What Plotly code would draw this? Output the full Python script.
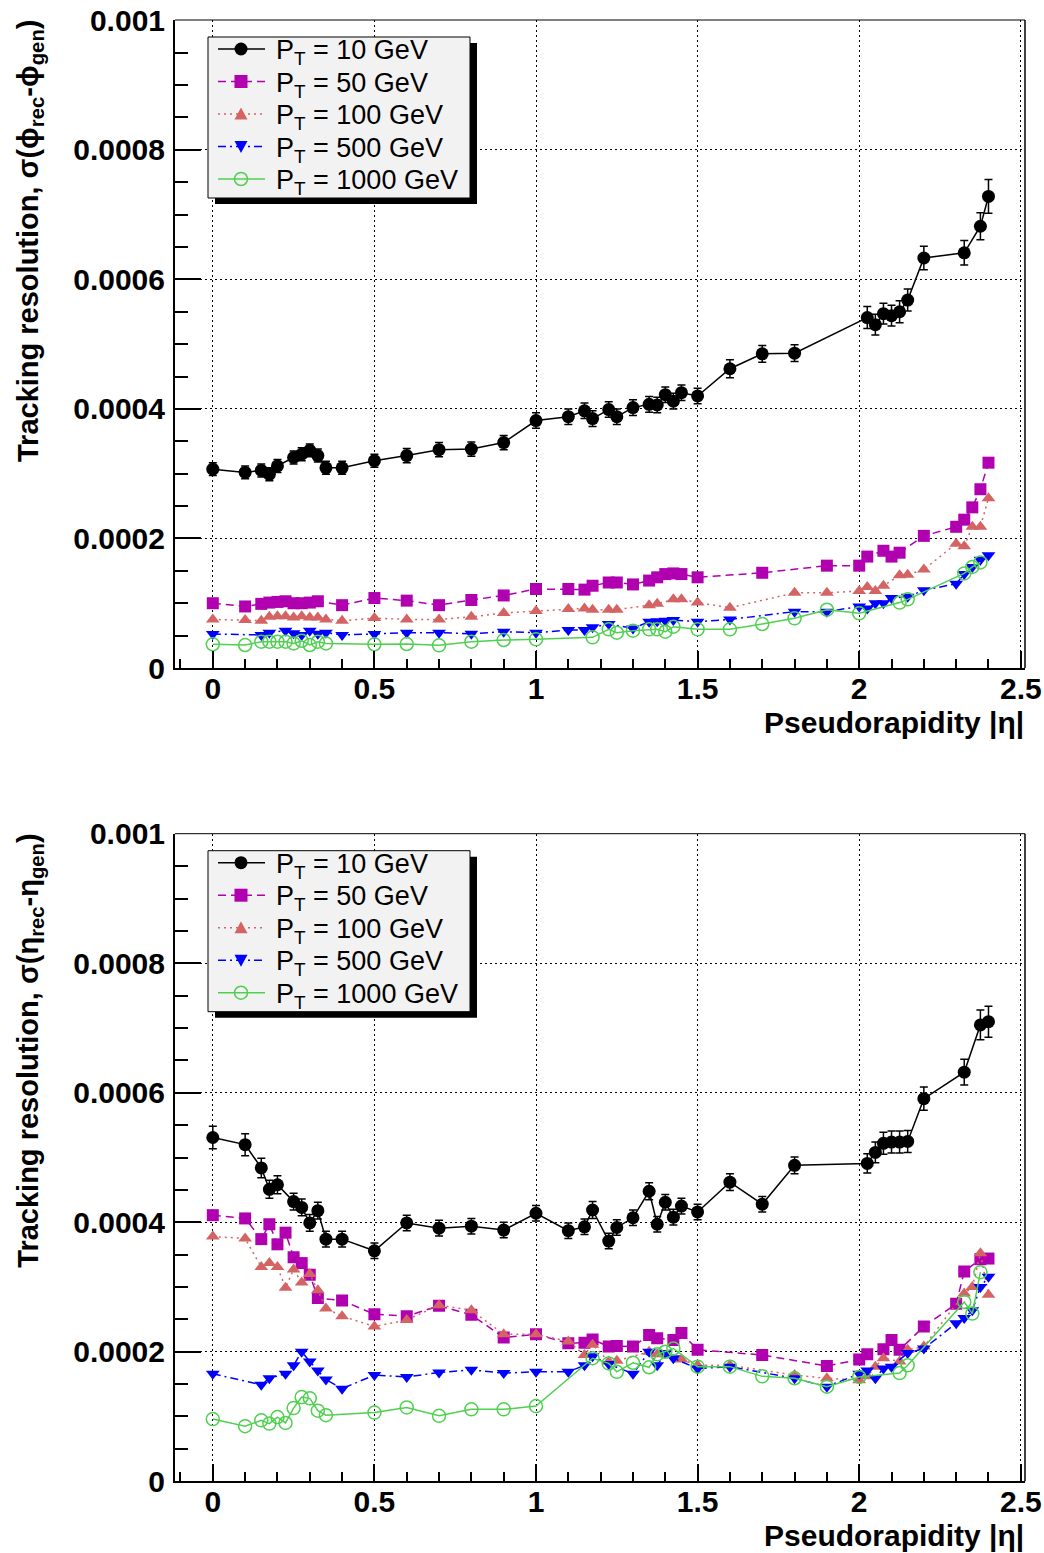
import plotly.graph_objects as go

# Tracking resolution versus |eta| for single muons at several transverse momenta.
# Resolution values are stored in units of 1e-4 (rad for phi, unitless for eta).

PT_LABELS = ["10", "50", "100", "500", "1000"]

# ---------------- sigma(phi_rec - phi_gen) ----------------
phi_eta_10 = [0, 0.1, 0.15, 0.175, 0.2, 0.25, 0.275, 0.3, 0.325, 0.35, 0.4, 0.5, 0.6, 0.7, 0.8, 0.9,
              1.0, 1.1, 1.15, 1.175, 1.225, 1.25, 1.3, 1.35, 1.375, 1.4, 1.425, 1.45, 1.5, 1.6, 1.7,
              1.8, 2.025, 2.05, 2.075, 2.1, 2.125, 2.15, 2.2, 2.325, 2.375, 2.4]
phi_res_10 = [3.07, 3.02, 3.05, 2.99, 3.12, 3.25, 3.30, 3.36, 3.28, 3.09, 3.09, 3.20, 3.28, 3.37, 3.38, 3.48,
              3.82, 3.88, 3.97, 3.85, 3.99, 3.88, 4.02, 4.07, 4.06, 4.22, 4.12, 4.25, 4.20, 4.62, 4.85,
              4.86, 5.41, 5.30, 5.47, 5.44, 5.50, 5.68, 6.33, 6.41, 6.82, 7.28]
phi_err_10 = [0.10, 0.10, 0.10, 0.10, 0.10, 0.10, 0.10, 0.10, 0.10, 0.10, 0.10, 0.10, 0.11, 0.11, 0.11, 0.11,
              0.12, 0.12, 0.12, 0.12, 0.12, 0.12, 0.12, 0.12, 0.12, 0.12, 0.12, 0.12, 0.12, 0.14, 0.13,
              0.13, 0.17, 0.16, 0.16, 0.16, 0.17, 0.17, 0.18, 0.19, 0.21, 0.26]

phi_eta_50 = [0, 0.1, 0.15, 0.175, 0.2, 0.225, 0.25, 0.275, 0.3, 0.325, 0.4, 0.5, 0.6, 0.7, 0.8, 0.9,
              1.0, 1.1, 1.15, 1.175, 1.225, 1.25, 1.3, 1.35, 1.375, 1.4, 1.425, 1.45, 1.5, 1.7, 1.9,
              2.0, 2.025, 2.075, 2.1, 2.125, 2.2, 2.3, 2.325, 2.35, 2.375, 2.4]
phi_res_50 = [1.00, 0.95, 0.99, 1.01, 1.02, 1.03, 1.00, 1.00, 1.01, 1.03, 0.97, 1.08, 1.04, 0.97, 1.05, 1.12,
              1.22, 1.22, 1.21, 1.27, 1.32, 1.32, 1.29, 1.35, 1.40, 1.45, 1.46, 1.45, 1.40, 1.47, 1.58,
              1.58, 1.72, 1.81, 1.72, 1.78, 2.04, 2.18, 2.29, 2.48, 2.76, 3.17]

phi_eta_100 = [0, 0.1, 0.15, 0.175, 0.2, 0.225, 0.25, 0.275, 0.3, 0.325, 0.35, 0.4, 0.5, 0.6, 0.7, 0.8,
               0.9, 1.0, 1.1, 1.15, 1.175, 1.225, 1.25, 1.35, 1.375, 1.425, 1.45, 1.5, 1.6, 1.8, 1.9,
               2.0, 2.025, 2.05, 2.075, 2.125, 2.15, 2.2, 2.3, 2.325, 2.35, 2.375, 2.4]
phi_res_100 = [0.75, 0.74, 0.73, 0.79, 0.80, 0.80, 0.78, 0.80, 0.78, 0.78, 0.75, 0.73, 0.77, 0.75, 0.75, 0.79,
               0.85, 0.88, 0.91, 0.92, 0.90, 0.90, 0.90, 0.97, 0.99, 1.06, 1.06, 1.01, 0.93, 1.16, 1.16,
               1.19, 1.25, 1.19, 1.27, 1.43, 1.44, 1.52, 1.92, 1.88, 2.18, 2.18, 2.62]

phi_eta_500 = [0, 0.15, 0.175, 0.225, 0.25, 0.275, 0.3, 0.325, 0.35, 0.4, 0.5, 0.6, 0.7, 0.8, 0.9, 1.0,
               1.1, 1.15, 1.175, 1.225, 1.3, 1.35, 1.375, 1.4, 1.425, 1.5, 1.6, 1.8, 1.9, 2.0, 2.025,
               2.05, 2.075, 2.1, 2.15, 2.2, 2.3, 2.325, 2.35, 2.375, 2.4]
phi_res_500 = [0.525, 0.51, 0.545, 0.575, 0.535, 0.51, 0.575, 0.53, 0.545, 0.51, 0.525, 0.545, 0.545, 0.53,
               0.56, 0.545, 0.586, 0.586, 0.628, 0.68, 0.61, 0.715, 0.72, 0.73, 0.74, 0.715, 0.75, 0.87,
               0.87, 0.95, 0.92, 1.00, 1.00, 1.08, 1.10, 1.20, 1.30, 1.45, 1.56, 1.67, 1.74]

phi_eta_1000 = [0, 0.1, 0.15, 0.175, 0.2, 0.225, 0.25, 0.275, 0.3, 0.325, 0.35, 0.5, 0.6, 0.7, 0.8, 0.9,
                1.0, 1.175, 1.225, 1.25, 1.3, 1.35, 1.375, 1.4, 1.425, 1.5, 1.6, 1.7, 1.8, 1.9, 2.0,
                2.125, 2.15, 2.325, 2.35, 2.375]
phi_res_1000 = [0.366, 0.355, 0.406, 0.406, 0.406, 0.406, 0.38, 0.42, 0.355, 0.406, 0.38, 0.366, 0.37,
                0.35, 0.406, 0.432, 0.442, 0.473, 0.597, 0.545, 0.576, 0.597, 0.597, 0.56, 0.637, 0.597,
                0.597, 0.679, 0.767, 0.90, 0.844, 1.01, 1.06, 1.46, 1.56, 1.63]

# ---------------- sigma(eta_rec - eta_gen) ----------------
eta_eta_10 = [0, 0.1, 0.15, 0.175, 0.2, 0.25, 0.275, 0.3, 0.325, 0.35, 0.4, 0.5, 0.6, 0.7, 0.8, 0.9,
              1.0, 1.1, 1.15, 1.175, 1.225, 1.25, 1.3, 1.35, 1.375, 1.4, 1.425, 1.45, 1.5, 1.6, 1.7,
              1.8, 2.025, 2.05, 2.075, 2.1, 2.125, 2.15, 2.2, 2.325, 2.375, 2.4]
eta_res_10 = [5.31, 5.20, 4.84, 4.51, 4.58, 4.32, 4.23, 3.99, 4.18, 3.74, 3.74, 3.56, 3.99, 3.91, 3.94, 3.88,
              4.14, 3.87, 3.93, 4.19, 3.71, 3.92, 4.07, 4.48, 3.97, 4.31, 4.08, 4.25, 4.16, 4.62, 4.28,
              4.88, 4.91, 5.08, 5.22, 5.24, 5.24, 5.25, 5.91, 6.32, 7.05, 7.10]
eta_err_10 = [0.175, 0.17, 0.15, 0.14, 0.14, 0.13, 0.13, 0.13, 0.13, 0.12, 0.12, 0.12, 0.12, 0.12, 0.12, 0.12,
              0.12, 0.12, 0.12, 0.13, 0.12, 0.12, 0.12, 0.13, 0.12, 0.12, 0.12, 0.12, 0.12, 0.13, 0.12,
              0.13, 0.15, 0.16, 0.17, 0.17, 0.17, 0.17, 0.18, 0.20, 0.23, 0.24]

eta_eta_50 = [0, 0.1, 0.15, 0.175, 0.2, 0.225, 0.25, 0.275, 0.3, 0.325, 0.4, 0.5, 0.6, 0.7, 0.8, 0.9,
              1.0, 1.1, 1.15, 1.175, 1.225, 1.25, 1.3, 1.35, 1.375, 1.425, 1.45, 1.5, 1.7, 1.9, 2.0,
              2.025, 2.075, 2.1, 2.125, 2.2, 2.3, 2.325, 2.375, 2.4]
eta_res_50 = [4.11, 4.06, 3.74, 3.97, 3.66, 3.84, 3.46, 3.37, 3.19, 2.83, 2.79, 2.58, 2.55, 2.71, 2.57, 2.22,
              2.27, 2.13, 2.14, 2.19, 2.08, 2.09, 2.08, 2.26, 2.21, 2.18, 2.29, 2.03, 1.95, 1.78, 1.88,
              1.96, 2.04, 2.18, 2.03, 2.39, 2.74, 3.24, 3.43, 3.44]

eta_eta_100 = [0, 0.1, 0.15, 0.175, 0.2, 0.225, 0.25, 0.275, 0.3, 0.325, 0.35, 0.4, 0.5, 0.6, 0.7, 0.8,
               0.9, 1.0, 1.1, 1.15, 1.175, 1.225, 1.25, 1.35, 1.375, 1.45, 1.5, 1.6, 1.8, 1.9, 2.0,
               2.025, 2.05, 2.075, 2.125, 2.15, 2.2, 2.325, 2.35, 2.375, 2.4]
eta_res_100 = [3.78, 3.75, 3.31, 3.37, 3.31, 2.99, 3.27, 3.07, 3.20, 2.95, 2.67, 2.55, 2.39, 2.49, 2.72, 2.64,
               2.27, 2.27, 2.16, 1.95, 2.11, 1.85, 1.86, 2.00, 1.96, 1.88, 1.79, 1.79, 1.64, 1.59, 1.56,
               1.62, 1.77, 1.90, 1.85, 2.03, 2.08, 2.90, 3.00, 3.52, 2.88]

eta_eta_500 = [0, 0.15, 0.175, 0.225, 0.25, 0.275, 0.3, 0.325, 0.35, 0.4, 0.5, 0.6, 0.7, 0.8, 0.9, 1.0,
               1.1, 1.15, 1.175, 1.225, 1.3, 1.35, 1.375, 1.4, 1.425, 1.5, 1.6, 1.8, 1.9, 2.0, 2.025,
               2.05, 2.075, 2.1, 2.15, 2.2, 2.3, 2.325, 2.35, 2.375, 2.4]
eta_res_500 = [1.66, 1.49, 1.59, 1.66, 1.79, 2.00, 1.85, 1.71, 1.57, 1.43, 1.64, 1.61, 1.68, 1.72, 1.67, 1.69,
               1.69, 1.79, 1.93, 1.81, 1.66, 2.00, 1.79, 1.98, 1.90, 1.74, 1.77, 1.59, 1.46, 1.66, 1.71,
               1.59, 1.74, 1.77, 1.98, 2.05, 2.44, 2.52, 2.64, 3.00, 3.16]

eta_eta_1000 = [0, 0.1, 0.15, 0.175, 0.2, 0.225, 0.25, 0.275, 0.3, 0.325, 0.35, 0.5, 0.6, 0.7, 0.8, 0.9,
                1.0, 1.175, 1.225, 1.25, 1.3, 1.35, 1.375, 1.4, 1.425, 1.5, 1.6, 1.7, 1.8, 1.9, 2.0,
                2.125, 2.15, 2.325, 2.35, 2.375]
eta_res_1000 = [0.96, 0.85, 0.94, 0.89, 0.99, 0.90, 1.13, 1.30, 1.28, 1.09, 1.02, 1.06, 1.14, 1.01, 1.11, 1.11,
                1.16, 1.90, 1.82, 1.69, 1.83, 1.76, 1.96, 2.00, 2.05, 1.77, 1.77, 1.62, 1.59, 1.46, 1.61,
                1.67, 1.79, 2.77, 2.59, 3.23]

UNIT = 1e-4

FONT = "Liberation Sans, Arial, Helvetica, sans-serif"
W, H = 1044, 1553

# marker / line style for each pT sample
STYLES = {
    "10":   dict(color="black",   symbol="circle",        size=13, dash="solid"),
    "50":   dict(color="#B000B0", symbol="square",        size=12, dash="8px,5px"),
    "100":  dict(color="#D46464", symbol="triangle-up",   size=12, dash="2px,4px"),
    "500":  dict(color="#0000FF", symbol="triangle-down", size=12, dash="8px,4px,2px,4px"),
    "1000": dict(color="#50D050", symbol="circle-open",   size=13, dash="solid"),
}

panels = [
    dict(xa="x", ya="y",
         data={"10": (phi_eta_10, phi_res_10, phi_err_10),
               "50": (phi_eta_50, phi_res_50, None),
               "100": (phi_eta_100, phi_res_100, None),
               "500": (phi_eta_500, phi_res_500, None),
               "1000": (phi_eta_1000, phi_res_1000, None)}),
    dict(xa="x2", ya="y2",
         data={"10": (eta_eta_10, eta_res_10, eta_err_10),
               "50": (eta_eta_50, eta_res_50, None),
               "100": (eta_eta_100, eta_res_100, None),
               "500": (eta_eta_500, eta_res_500, None),
               "1000": (eta_eta_1000, eta_res_1000, None)}),
]

fig = go.Figure()

for p in panels:
    for pt in PT_LABELS:
        eta, res, err = p["data"][pt]
        st = STYLES[pt]
        yvals = [v * UNIT for v in res]
        err_y = None
        if err is not None:
            err_y = dict(type="data", array=[e * UNIT for e in err], visible=True,
                         color="black", thickness=1.5, width=4)
        fig.add_trace(go.Scatter(
            x=eta, y=yvals, xaxis=p["xa"], yaxis=p["ya"], showlegend=False,
            mode="lines+markers",
            name=f"P_T = {pt} GeV",
            line=dict(color=st["color"], width=1.5, dash=st["dash"]),
            marker=dict(symbol=st["symbol"], size=st["size"], color=st["color"],
                        line=dict(color=st["color"], width=1.5 if pt == "1000" else 0)),
            error_y=err_y,
        ))


def px_x(px):
    return px / W


def px_y(py):
    return 1 - py / H


# pixel geometry of the two pads
X_LEFT, X_RIGHT = 175, 1025
PADS = [(20, 668), (833.7, 1481.2)]

tick_font = dict(family=FONT, size=30, color="black", weight="bold")
GRID_DASH = "2px,3px"


def xaxis_cfg(anchor):
    return dict(
        domain=[px_x(X_LEFT), px_x(X_RIGHT)], range=[-0.117, 2.513], anchor=anchor,
        showline=True, linecolor="black", linewidth=2,
        ticks="inside", ticklen=17, tickwidth=1.5, tickcolor="black",
        tick0=0, dtick=0.5, ticklabelstandoff=-7,
        minor=dict(dtick=0.1, ticks="inside", ticklen=9, tickwidth=1.5, tickcolor="black", showgrid=False),
        showgrid=True, gridcolor="black", griddash=GRID_DASH, gridwidth=1,
        zeroline=False, tickfont=tick_font,
    )


def yaxis_cfg(anchor, top, bottom):
    return dict(
        domain=[px_y(bottom), px_y(top)], range=[0, 0.0010004], anchor=anchor,
        showline=True, linecolor="black", linewidth=2,
        ticks="inside", ticklen=26, tickwidth=1.5, tickcolor="black",
        tick0=0, dtick=0.0002, tickformat="~g", ticklabelstandoff=2,
        minor=dict(dtick=0.00005, ticks="inside", ticklen=13, tickwidth=1.5, tickcolor="black", showgrid=False),
        showgrid=True, gridcolor="black", griddash=GRID_DASH, gridwidth=1,
        zeroline=False, tickfont=tick_font,
    )


# legend box geometry (top pad, pixels); the lower pad reuses it shifted down
LEG_L, LEG_T, LEG_R, LEG_B = 208, 37, 470, 198
SHADOW_DX, SHADOW_DY = 7, 6
ROW_Y0, ROW_DY = 49, 32.5
SYM_L, SYM_R, SYM_C = 218, 265, 241
TEXT_X = 274


def marker_shape(pt, xc, yc):
    st = STYLES[pt]
    c = st["color"]
    if pt == "10":
        r = 6.5
        return dict(type="circle", xref="paper", yref="paper",
                    x0=px_x(xc - r), x1=px_x(xc + r), y0=px_y(yc + r), y1=px_y(yc - r),
                    fillcolor=c, line=dict(color=c, width=0), layer="above")
    if pt == "50":
        r = 6.5
        return dict(type="rect", xref="paper", yref="paper",
                    x0=px_x(xc - r), x1=px_x(xc + r), y0=px_y(yc + r), y1=px_y(yc - r),
                    fillcolor=c, line=dict(color=c, width=0), layer="above")
    if pt in ("100", "500"):
        s = 1 if pt == "100" else -1
        path = (f"M {px_x(xc - 6.5)},{px_y(yc + 5.5 * s)} "
                f"L {px_x(xc + 6.5)},{px_y(yc + 5.5 * s)} "
                f"L {px_x(xc)},{px_y(yc - 6.5 * s)} Z")
        return dict(type="path", xref="paper", yref="paper", path=path,
                    fillcolor=c, line=dict(color=c, width=0), layer="above")
    r = 6.5
    return dict(type="circle", xref="paper", yref="paper",
                x0=px_x(xc - r), x1=px_x(xc + r), y0=px_y(yc + r), y1=px_y(yc - r),
                fillcolor="rgba(0,0,0,0)", line=dict(color=c, width=1.5), layer="above")


shapes = []
annotations = []
ytitles = ["Tracking resolution, σ(ϕ<sub>rec</sub>-ϕ<sub>gen</sub>)",
           "Tracking resolution, σ(η<sub>rec</sub>-η<sub>gen</sub>)"]

for i, (top, bottom) in enumerate(PADS):
    xr = "x domain" if i == 0 else "x2 domain"
    yr = "y domain" if i == 0 else "y2 domain"
    off = top - PADS[0][0]
    # top and right frame edges
    shapes.append(dict(type="line", xref=xr, yref=yr, x0=0, x1=1, y0=1, y1=1,
                       line=dict(color="black", width=1)))
    shapes.append(dict(type="line", xref=xr, yref=yr, x0=1, x1=1, y0=0, y1=1,
                       line=dict(color="black", width=1.5)))
    # legend: drop shadow, box, sample line + marker, label
    shapes.append(dict(type="rect", xref="paper", yref="paper",
                       x0=px_x(LEG_L + SHADOW_DX), x1=px_x(LEG_R + SHADOW_DX),
                       y0=px_y(LEG_B + off + SHADOW_DY), y1=px_y(LEG_T + off + SHADOW_DY),
                       fillcolor="black", line=dict(width=0), layer="above"))
    shapes.append(dict(type="rect", xref="paper", yref="paper",
                       x0=px_x(LEG_L), x1=px_x(LEG_R),
                       y0=px_y(LEG_B + off), y1=px_y(LEG_T + off),
                       fillcolor="#F2F2F2", line=dict(color="black", width=1), layer="above"))
    for k, pt in enumerate(PT_LABELS):
        yc = ROW_Y0 + k * ROW_DY + off
        st = STYLES[pt]
        shapes.append(dict(type="line", xref="paper", yref="paper",
                           x0=px_x(SYM_L), x1=px_x(SYM_R), y0=px_y(yc), y1=px_y(yc),
                           line=dict(color=st["color"], width=1.5, dash=st["dash"]), layer="above"))
        shapes.append(marker_shape(pt, SYM_C, yc))
        annotations.append(dict(text=f"P<sub>T</sub> = {pt} GeV", xref="paper", yref="paper",
                                x=px_x(TEXT_X), y=px_y(yc + 3), xanchor="left", yanchor="middle",
                                showarrow=False, font=dict(family=FONT, size=27, color="black")))
    # axis titles
    annotations.append(dict(text="Pseudorapidity |η|", xref="paper", yref="paper",
                            x=px_x(X_RIGHT + 1), y=px_y(bottom + 54), xanchor="right", yanchor="middle",
                            showarrow=False, font=dict(family=FONT, size=30, color="black", weight="bold")))
    annotations.append(dict(text=ytitles[i], xref="paper", yref="paper", textangle=-90,
                            x=px_x(30), y=px_y(top - 2), xanchor="center", yanchor="top",
                            showarrow=False, font=dict(family=FONT, size=29, color="black", weight="bold")))

fig.update_layout(
    width=W, height=H, margin=dict(l=0, r=0, t=0, b=0, autoexpand=False),
    paper_bgcolor="white", plot_bgcolor="white", showlegend=False,
    xaxis=xaxis_cfg("y"), yaxis=yaxis_cfg("x", *PADS[0]),
    xaxis2=xaxis_cfg("y2"), yaxis2=yaxis_cfg("x2", *PADS[1]),
    shapes=shapes, annotations=annotations,
)

fig.write_html("out.html")
